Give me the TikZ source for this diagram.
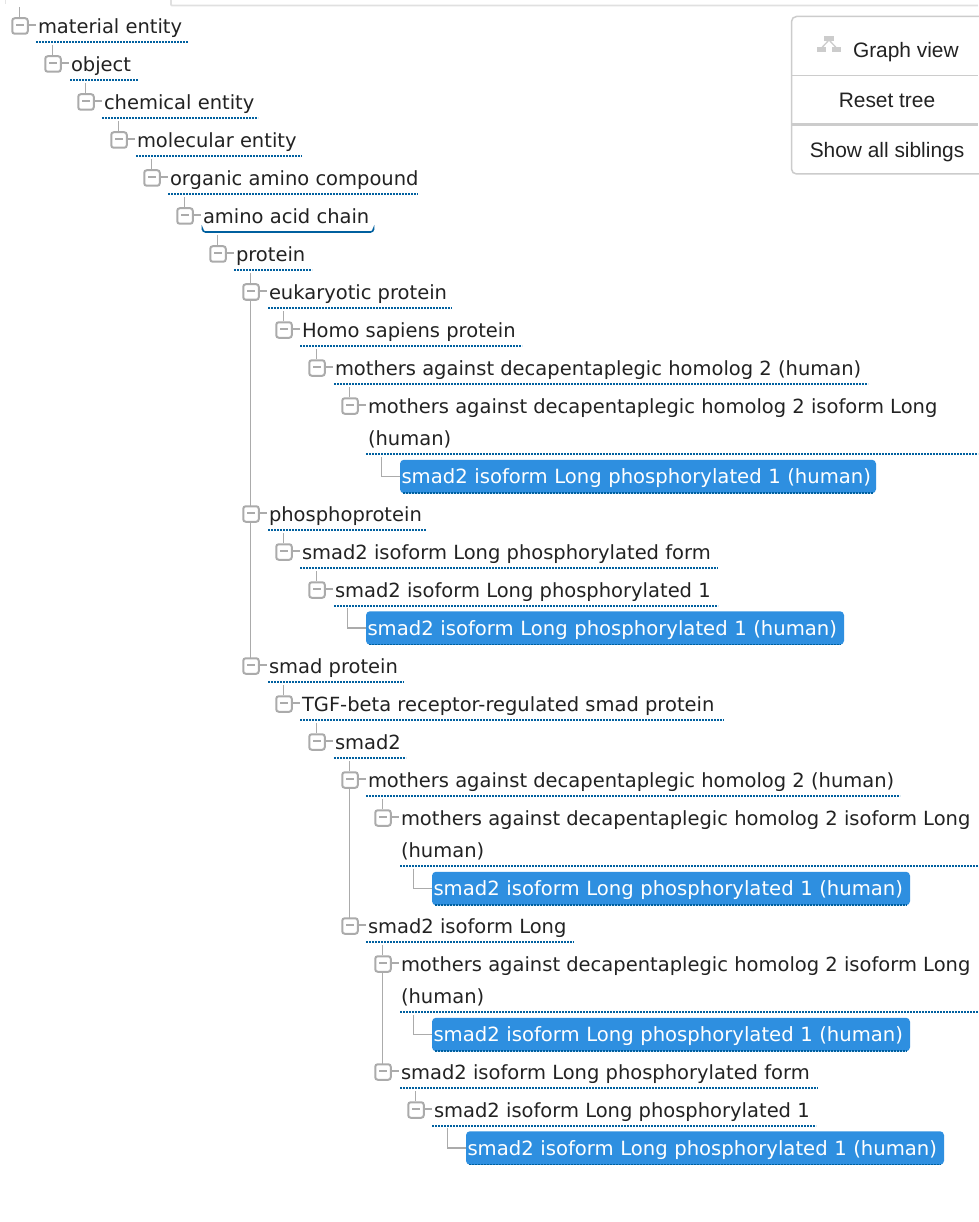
\documentclass[tikz,border=0pt]{standalone}
\usepackage{fontspec}
\setmainfont{DejaVu Sans}
\newfontfamily\btnfont{Liberation Sans}
\definecolor{ink}{HTML}{222222}
\definecolor{treegrey}{HTML}{ABABAB}
\definecolor{ulblue}{HTML}{00609F}
\definecolor{hlblue}{HTML}{2E8FE0}
\definecolor{panelgrey}{HTML}{CCCCCC}
\tikzset{
  expander/.style={draw=treegrey,line width=2pt,rounded corners=2.5pt,fill=white,minimum width=15.5pt,minimum height=15.5pt,inner sep=0pt,outer sep=0pt},
  termlabel/.style={anchor=base west,inner sep=0pt,outer sep=0pt,text=ink,font=\fontsize{19.5pt}{22pt}\selectfont},
  hlterm/.style={anchor=west,fill=hlblue,rounded corners=4pt,text=white,inner xsep=1.5pt,inner ysep=0pt,outer sep=0pt,minimum height=33.5pt,font=\fontsize{19.62pt}{22pt}\selectfont,align=left},
  treeline/.style={draw=treegrey,line width=1.4pt},
  minusline/.style={draw=treegrey,line width=1.5pt},
  dotul/.style={draw=ulblue,line width=1.7pt,dash pattern=on 2pt off 1pt},
  btntext/.style={inner sep=0pt,outer sep=0pt,text=ink,font=\btnfont\fontsize{20.9pt}{24pt}\selectfont},
  panelline/.style={draw=panelgrey,line width=1.5pt}
}
% name, box x, row y, text
\newcommand{\termhead}[4]{%
  \node[expander] (#1box) at (#2,#3) {};
  \node[termlabel] (#1) at (#2+18,#3+7.6) {#4};
  \coordinate (#1up) at (#2-0.5,#3-19);
  \coordinate (#1up0) at (#2-0.5,#3-9);
  \coordinate (#1in) at (#2+15.5,#3-1);
  \coordinate (#1out) at (#2+9,#3-1);
  \draw[minusline] (#2-4,#3-1) -- (#2+4,#3-1);
  \draw[treeline] (#1out) -- (#1in);
  \draw[treeline] (#1up) -- (#1up0);
}
% name, box x, row y, text, underline start, underline end
\newcommand{\termrow}[6]{%
  \termhead{#1}{#2}{#3}{#4}
  \draw[dotul] (#5,#3+16) -- (#6,#3+16);
}
% name, left x, width, row y, text
\newcommand{\hlrow}[5]{%
  \node[hlterm,text width=#3-3pt] (#1) at (#2,#4) {\raisebox{0pt}[18.2pt][4pt]{#5}};
  \draw[dotul] (#2+3,#4+16.4) -- (#2+#3-3,#4+16.4);
  \coordinate (#1elbow) at (#2-18.5,#4);
  \coordinate (#1top) at (#2-18.5,#4-20);
  \draw[treeline] (#1top) -- (#1elbow) -- (#1.west);
}
\begin{document}
\begin{tikzpicture}[x=1pt,y=-1pt]
\useasboundingbox (0,0) rectangle (978,1222);
\fill[white] (0,0) rectangle (978,1222);
% top edge of the page panel
\draw[draw=black!12,line width=1.8pt] (171,0) -- (171,4) [rounded corners=1pt] -- (171,5.6) -- (978,5.6);
\draw[draw=black!10,line width=1pt] (5.5,0) -- (5.5,4);

\termrow{a}{20}{26}{material entity}{36}{188}
\termrow{b}{53}{64}{object}{70}{138}
\termrow{c}{86}{102}{chemical entity}{102}{258}
\termrow{d}{119}{140}{molecular entity}{136}{302}
\termrow{e}{152}{178}{organic amino compound}{168}{418}
% amino acid chain has a solid underline
\termhead{f}{185}{216}{amino acid chain}
\draw[draw=ulblue,line width=1.6pt,rounded corners=3pt] (202.5,230) -- (202.5,232) -- (373.5,232) -- (373.5,230);

\termrow{g}{218}{254}{protein}{234}{312}
\termrow{h}{251}{292}{eukaryotic protein}{268}{452}
\termrow{i}{284}{330}{Homo sapiens protein}{300}{522}
\termrow{j}{317}{368}{mothers against decapentaplegic homolog 2 (human)}{334}{868}
\termhead{k}{350}{406}{mothers against decapentaplegic homolog 2 isoform Long}
\node[termlabel] (kb) at (368,445.6) {(human)};
\draw[dotul] (366,454) -- (978,454);
\hlrow{l}{400}{476}{476.5}{smad2 isoform Long phosphorylated 1 (human)}

\termrow{m}{251}{514}{phosphoprotein}{268}{426}
\termrow{n}{284}{552}{smad2 isoform Long phosphorylated form}{300}{718}
\termrow{o}{317}{590}{smad2 isoform Long phosphorylated 1}{334}{718}
\hlrow{p}{366}{478}{628}{smad2 isoform Long phosphorylated 1 (human)}

\termrow{q}{251}{666}{smad protein}{268}{404}
\termrow{r}{284}{704}{TGF-beta receptor-regulated smad protein}{300}{724}
\termrow{s}{317}{742}{smad2}{334}{406}
\termrow{t}{350}{780}{mothers against decapentaplegic homolog 2 (human)}{366}{900}
\termhead{u}{383}{818}{mothers against decapentaplegic homolog 2 isoform Long}
\node[termlabel] (ub) at (401,857.6) {(human)};
\draw[dotul] (400,866) -- (978,866);
\hlrow{v}{432}{478}{888.5}{smad2 isoform Long phosphorylated 1 (human)}

\termrow{w}{350}{926}{smad2 isoform Long}{366}{574}
\termhead{x}{383}{964}{mothers against decapentaplegic homolog 2 isoform Long}
\node[termlabel] (xb) at (401,1003.6) {(human)};
\draw[dotul] (400,1012) -- (978,1012);
\hlrow{y}{432}{478}{1034.5}{smad2 isoform Long phosphorylated 1 (human)}

\termrow{z}{383}{1072}{smad2 isoform Long phosphorylated form}{400}{818}
\termrow{aa}{416}{1110}{smad2 isoform Long phosphorylated 1}{432}{816}
\hlrow{ab}{466}{478}{1148}{smad2 isoform Long phosphorylated 1 (human)}

% sibling trunks
\draw[treeline] (hbox.south -| hup) -- (mbox.north -| hup);
\draw[treeline] (mbox.south -| hup) -- (qbox.north -| hup);
\draw[treeline] (tbox.south -| tup) -- (wbox.north -| tup);
\draw[treeline] (xbox.south -| xup) -- (zbox.north -| xup);

% button panel
\draw[panelline,rounded corners=5pt] (985,16.5) -- (791.5,16.5) -- (791.5,174) -- (985,174);
\coordinate (btnA) at (792,75.5);
\coordinate (btnAe) at (978,75.5);
\coordinate (btnB) at (792,124.5);
\coordinate (btnBe) at (978,124.5);
\draw[panelline] (btnA) -- (btnAe);
\draw[draw=panelgrey,line width=2.8pt] (btnB) -- (btnBe);
\fill[panelgrey] (824,36) rectangle (834,41);
\fill[panelgrey] (817,47.5) rectangle (826,52.5);
\fill[panelgrey] (832,47.5) rectangle (841,52.5);
\draw[panelgrey,line width=1.3pt] (829,40) -- (821.5,48) (829,40) -- (836.5,48);
\node[btntext,anchor=base west] (graphview) at (853,57.6) {Graph view};
\node[btntext,anchor=base] (resettree) at (887,107.6) {Reset tree};
\node[btntext,anchor=base] (showall) at (887,157.6) {Show all siblings};
\end{tikzpicture}
\end{document}
